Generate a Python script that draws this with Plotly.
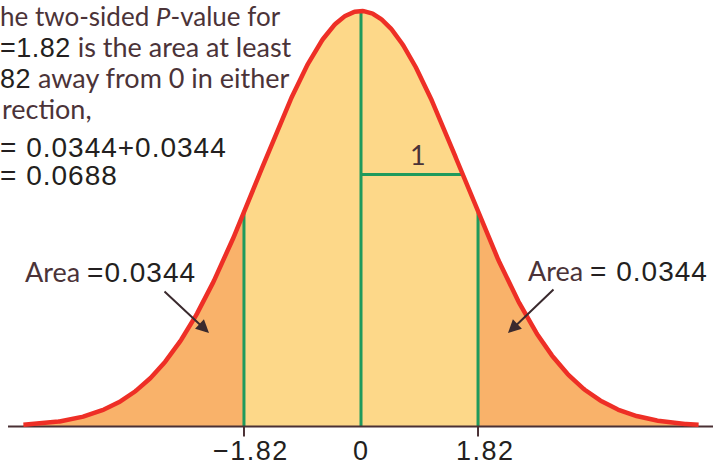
import numpy as np
import plotly.graph_objects as go

# ---- values shown in the figure ----
z_crit = 1.82            # observed statistic, marked on both sides of 0
tail_area = 0.0344       # area in each tail
p_value = 0.0688         # two-sided P-value
bell_sd = 1.58           # spread of the drawn bell (one "1" step)
curve_limit = 5.25       # how far the bell is drawn each way
tick_vals = [-1.82, 0.0, 1.82]
tick_text = ["\u22121.82", "0", "1.82"]

# ---- styling ----
W, H = 716, 467
RED = "#ee2f26"
GREEN = "#1f9a5c"
TAIL = "#f9b26a"
BODY = "#fdd889"
AXIS = "#4a3034"
WORD = "#4b3338"
NUM = "#231f20"
WORD_FONT = "Lato"
NUM_FONT = "Liberation Sans"
WORD_SIZE = 27

# pixel layout of the drawing area
x0_px, unit_px = 361.0, 64.3      # where 0 sits, pixels per x unit
base_px, peak_px = 426.5, 11.0    # baseline and top of the bell


def density(x):
    return np.exp(-0.5 * (np.asarray(x) / bell_sd) ** 2) / (bell_sd * np.sqrt(2 * np.pi))


peak = float(density(0.0))
y_per_px = peak / (base_px - peak_px)
x_range = [-x0_px / unit_px, (W - x0_px) / unit_px]
y_range = [-(H - base_px) * y_per_px, peak + peak_px * y_per_px]

fig = go.Figure()


def band(a, b, color):
    xs = np.linspace(a, b, 200)
    fig.add_trace(go.Scatter(x=xs, y=density(xs), mode="lines", line=dict(width=0),
                             fill="tozeroy", fillcolor=color, hoverinfo="skip"))


band(-curve_limit, -z_crit, TAIL)
band(-z_crit, z_crit, BODY)
band(z_crit, curve_limit, TAIL)

# green guides: the two cut-offs, the centre and the one-step bar
for xv in (-z_crit, 0.0, z_crit):
    fig.add_trace(go.Scatter(x=[xv, xv], y=[0, float(density(xv))], mode="lines",
                             line=dict(color=GREEN, width=3), hoverinfo="skip"))
fig.add_trace(go.Scatter(x=[0, bell_sd], y=[float(density(bell_sd))] * 2, mode="lines",
                         line=dict(color=GREEN, width=3), hoverinfo="skip"))

# baseline
fig.add_trace(go.Scatter(x=[(8 - x0_px) / unit_px, (713 - x0_px) / unit_px], y=[0, 0],
                         mode="lines", line=dict(color=AXIS, width=2), hoverinfo="skip"))

# the bell curve
xs = np.linspace(-curve_limit, curve_limit, 600)
fig.add_trace(go.Scatter(x=xs, y=density(xs), mode="lines",
                         line=dict(color=RED, width=4.5), hoverinfo="skip"))

# tick marks at the cut-offs
tick_len = 10 * y_per_px
for xv in (-z_crit, z_crit):
    fig.add_shape(type="line", x0=xv, x1=xv, y0=0, y1=-tick_len,
                  line=dict(color=AXIS, width=2), layer="above")


def px_x(p):
    return p / W


def px_y(p):
    return 1 - p / H


def num(s, size=28, spacing=1):
    return (f"<span style=\"font-family:{NUM_FONT};color:{NUM};font-size:{size}px;"
            f"letter-spacing:{spacing}px\">{s}</span>")


annotations = []

# tick labels, kept inside the bottom edge
for xv, txt in zip(tick_vals, tick_text):
    annotations.append(dict(x=xv, y=px_y(466), xref="x", yref="paper", text=num(txt, 27, 1.5),
                            showarrow=False, xanchor="center", yanchor="bottom",
                            borderpad=0, borderwidth=0,
                            xshift=0 if xv == 0 else 7,
                            font=dict(family=NUM_FONT, size=27, color=NUM)))


def text_at(txt, left, baseline=None, top=None, size=WORD_SIZE):
    # place one line of text by its baseline (or by its top edge)
    if top is not None:
        y, anchor = px_y(top), "top"
    else:
        y, anchor = px_y(baseline + 6), "bottom"
    annotations.append(dict(x=px_x(left), y=y, xref="paper", yref="paper", text=txt,
                            showarrow=False, xanchor="left", yanchor=anchor,
                            borderpad=0, borderwidth=0,
                            font=dict(family=WORD_FONT, size=size, color=WORD)))


# explanatory text running in from the left edge
text_at("he two-sided <i>P</i>-value for", 0, top=0, size=26)
text_at(num("=1.82", 27, 0.5) + " is the area at least", 0, baseline=57)
text_at(num("82", 27, 0.5) + " away from 0 in either", 0, baseline=88)
text_at("rection,", 2, baseline=119)
text_at(num("= 0.0344+0.0344"), 0, baseline=157)
text_at(num("= 0.0688"), 0, baseline=185)

# tail labels
annotations.append(dict(x=px_x(25), y=px_y(271), xref="paper", yref="paper",
                        text="Area " + num(f"={tail_area:.4f}", 28, 1), showarrow=False,
                        xanchor="left", yanchor="middle", borderpad=0, borderwidth=0,
                        font=dict(family=WORD_FONT, size=WORD_SIZE, color=WORD)))
annotations.append(dict(x=px_x(708), y=px_y(270), xref="paper", yref="paper",
                        text="Area " + num(f"= {tail_area:.4f}", 28, 1), showarrow=False,
                        xanchor="right", yanchor="middle", borderpad=0, borderwidth=0,
                        font=dict(family=WORD_FONT, size=WORD_SIZE, color=WORD)))

# arrows into the tails
for head, tail in (((209, 333), (163, 290)), ((508, 333), (555, 288))):
    annotations.append(dict(x=px_x(head[0]), y=px_y(head[1]), xref="paper", yref="paper",
                            text="", showarrow=True, arrowhead=2, arrowsize=1.3,
                            arrowwidth=2, arrowcolor="#3a2a2e",
                            ax=tail[0] - head[0], ay=tail[1] - head[1]))

# the "1" above the one-step bar
annotations.append(dict(x=bell_sd * 0.56, y=float(density(bell_sd)), xref="x", yref="y",
                        text="1", showarrow=False, yanchor="bottom", yshift=1,
                        font=dict(family=WORD_FONT, size=WORD_SIZE, color=WORD)))

fig.update_layout(
    width=W, height=H, margin=dict(l=0, r=0, t=0, b=0),
    paper_bgcolor="white", plot_bgcolor="white", showlegend=False,
    xaxis=dict(range=x_range, visible=False, fixedrange=True),
    yaxis=dict(range=y_range, visible=False, fixedrange=True),
    annotations=annotations,
)

fig.write_html("out.html")
